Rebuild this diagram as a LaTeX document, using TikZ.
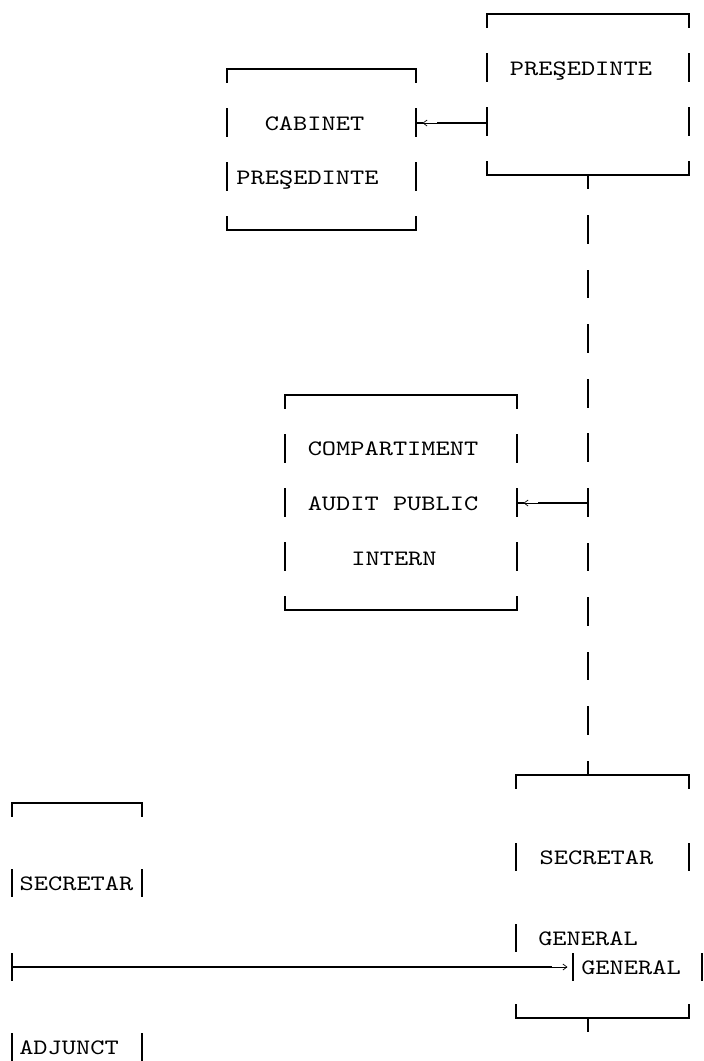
\documentclass[tikz,border=0pt]{standalone}
\usepackage{fontspec}
\newfontfamily\cellfont{lmmono10-regular.otf}[FakeStretch=1.23]
\usetikzlibrary{arrows.meta}
\tikzstyle{area} = [rectangle, inner sep=0pt, outer sep=0pt]
\tikzstyle{cell} = [font=\cellfont\fontsize{22}{26}\selectfont, inner sep=0pt, anchor=base]
\tikzstyle{frame} = [line width=1.6pt, line cap=rect]
\tikzstyle{wire} = [line width=1.6pt]
\tikzstyle{tip} = [-{Straight Barb[length=4pt,width=6pt]}, line width=0.7pt]
\tikzset{side/.style={frame, dash pattern=on 27pt off #1, dash phase=13.5pt}}
\begin{document}
\begin{tikzpicture}[x=1pt, y=-1pt]
    \useasboundingbox (0,0) rectangle (704,1061);
    % boxes
    \node[area, minimum width=202pt, minimum height=161pt] (pres) at (588,94.5) {};
    \node[area, minimum width=189pt, minimum height=161pt] (cab) at (321.5,149.5) {};
    \node[area, minimum width=232pt, minimum height=215pt] (cai) at (401,502.5) {};
    \node[area, minimum width=173pt, minimum height=243pt] (sg) at (602.5,896.5) {};
    \node[area, minimum width=130pt, minimum height=258pt] (sga) at (77,932) {};
    % texts
    \node[cell] (presname) at (581,75) {PREŞEDINTE};
    \node[cell] (cabname) at (314.5,130) {CABINET};
    \node[cell] (cabpres) at (307.5,184) {PREŞEDINTE};
    \node[cell] (caione) at (393,455) {COMPARTIMENT};
    \node[cell] (caitwo) at (393,510) {AUDIT PUBLIC};
    \node[cell] (caithree) at (394,565) {INTERN};
    \node[cell] (sgone) at (596.5,864) {SECRETAR};
    \node[cell] (sgtwo) at (588,945) {GENERAL};
    \node[cell] (sgthree) at (631,974) {GENERAL};
    \node[cell] (sgaone) at (76.5,890) {SECRETAR};
    \node[cell] (sgatwo) at (69,1054) {ADJUNCT};
    % frames
    \draw[frame] (pres.north west) -- (pres.north east) (pres.south west) -- (pres.south east);
    \draw[side=26.67pt] (pres.north west) -- (pres.south west) (pres.north east) -- (pres.south east);
    \draw[frame] (cab.north west) -- (cab.north east) (cab.south west) -- (cab.south east);
    \draw[side=26.67pt] (cab.north west) -- (cab.south west) (cab.north east) -- (cab.south east);
    \draw[frame] (cai.north west) -- (cai.north east) (cai.south west) -- (cai.south east);
    \draw[side=26.75pt] (cai.north west) -- (cai.south west) (cai.north east) -- (cai.south east);
    \draw[frame] (sg.north west) -- (sg.north east) (sg.south west) -- (sg.south east);
    \draw[frame] (sg.north west) -- ++(0,13.5) (sg.north east) -- ++(0,13.5)
        (sg.west |- 0,843.5) -- ++(0,27) (sg.east |- 0,843.5) -- ++(0,27)
        (sg.west |- 0,924.5) -- ++(0,27)
        (573,953.5) -- ++(0,27) (702,953.5) -- ++(0,27)
        (sg.south west) -- ++(0,-13.5) (sg.south east) -- ++(0,-13.5)
        (pres.south |- sg.south) -- ++(0,13.5);
    \draw[frame] (sga.north west) -- (sga.north east);
    \draw[frame] (sga.north west) -- ++(0,13.5) (sga.north east) -- ++(0,13.5)
        (sga.west |- 0,869.5) -- ++(0,27) (sga.east |- 0,869.5) -- ++(0,27)
        (sga.west |- 0,953.5) -- ++(0,27)
        (sga.west |- 0,1033.5) -- ++(0,27) (sga.east |- 0,1033.5) -- ++(0,27);
    % connectors
    \coordinate (rowcab) at (0,123);
    \draw[wire] (pres.west |- rowcab) -- ++(-50,0) coordinate (tipcab);
    \draw[tip] (tipcab) -- ++(-14.5,0);
    \draw[wire] (cab.east |- rowcab) -- ++(7,0);
    \draw[side=27.55pt] (pres.south) -- (pres.south |- sg.north);
    \coordinate (rowcai) at (0,503);
    \draw[wire] (pres.south |- rowcai) -- ++(-50,0) coordinate (tipcai);
    \draw[tip] (tipcai) -- ++(-14.5,0);
    \draw[wire] (cai.east |- rowcai) -- ++(6.5,0);
    \coordinate (rowsg) at (0,967);
    \draw[wire] (sga.west |- rowsg) -- ++(540,0) coordinate (tipsg);
    \draw[tip] (tipsg) -- ++(15.5,0);
\end{tikzpicture}
\end{document}
